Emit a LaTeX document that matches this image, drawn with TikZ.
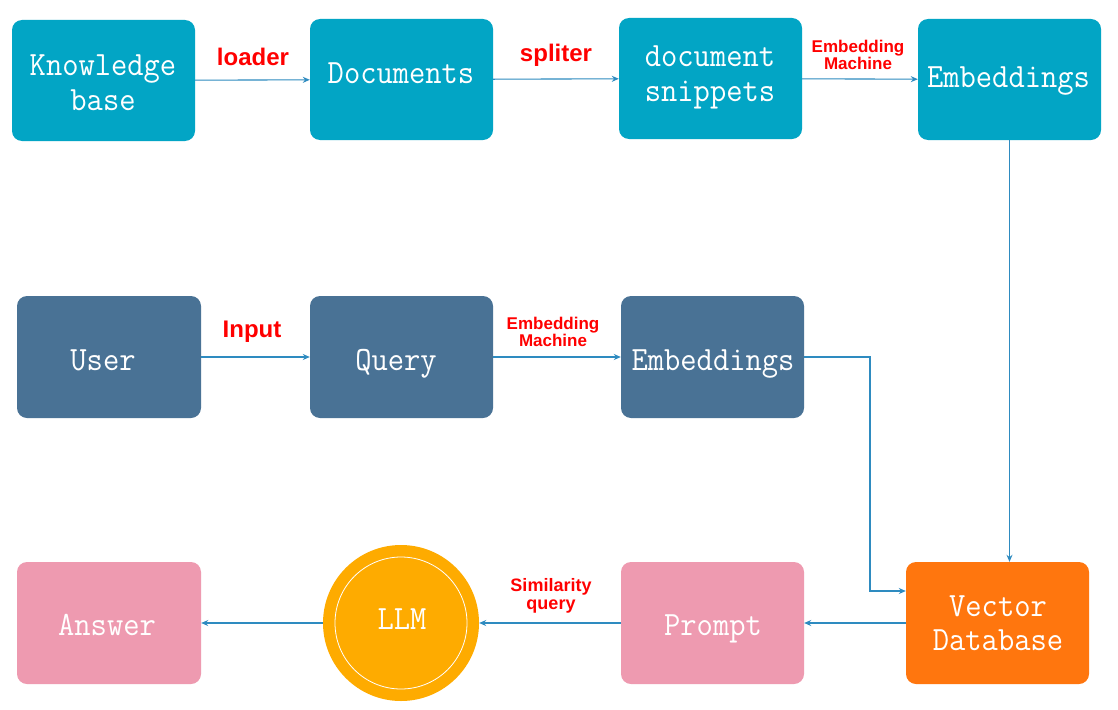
\documentclass[tikz,border=0pt]{standalone}
\usepackage{fontspec}
\newfontfamily\boxfont[FakeStretch=0.93]{Latin Modern Mono}
\newfontfamily\lblfont{Liberation Sans}
\usetikzlibrary{arrows.meta,calc}
\definecolor{teal1}{HTML}{02A5C5}
\definecolor{slate}{HTML}{497295}
\definecolor{pinkb}{HTML}{EE9AB0}
\definecolor{orangeb}{HTML}{FF760E}
\definecolor{llmc}{HTML}{FEAB00}
\definecolor{linec}{HTML}{2E8BC0}
\tikzset{
  box/.style={rounded corners=10pt, minimum width=183pt, minimum height=121pt, inner sep=0pt},
  btxt/.style={text=white, align=center, inner sep=0pt, font=\boxfont\fontsize{34}{34.5}\selectfont},
  conn/.style={draw=linec, line width=1.1pt, -{Stealth[length=7pt,width=6pt]}},
  lbl/.style={font=\lblfont\bfseries\fontsize{#1}{#1}\selectfont, align=center, inner sep=0pt, text=red},
}
\begin{document}
\begin{tikzpicture}[x=1pt,y=-1pt]
\useasboundingbox[fill=white] (0,0) rectangle (1118,709);
% row 1
\node[box, fill=teal1] (kb) at (103.5,80.5) {};
\node[box, fill=teal1] (doc) at (401.5,79.5) {};
\node[box, fill=teal1] (snip) at (710.5,78.5) {};
\node[box, fill=teal1] (emb1) at (1009.5,79.5) {};
% row 2
\node[box, fill=slate, minimum width=184pt, minimum height=122pt] (user) at (109,357) {};
\node[box, fill=slate, minimum height=122pt] (query) at (401.5,357) {};
\node[box, fill=slate, minimum height=122pt] (emb2) at (712.5,357) {};
% row 3
\node[box, fill=pinkb, minimum width=184pt, minimum height=122pt] (answer) at (109,623) {};
\node[circle, fill=llmc, minimum size=156pt, inner sep=0pt] (llm) at (401,623) {};
\draw[white, line width=0.8pt] (llm.center) circle[radius=66pt];
\node[box, fill=pinkb, minimum height=122pt] (prompt) at (712.5,623) {};
\node[box, fill=orangeb, minimum height=122pt] (vdb) at (997.5,623) {};
% box texts
\node[btxt] (kbt) at (103,82.9) {Knowledge\\base};
\node[btxt, anchor=base] (doct) at (401,83.3) {Documents};
\node[btxt] (snipt) at (710,77.2) {document\\snippets};
\node[btxt, anchor=base] (emb1t) at (1008.5,87.3) {Embeddings};
\node[btxt, anchor=base] (usert) at (103,370) {User};
\node[btxt, anchor=base] (queryt) at (396,370.5) {Query};
\node[btxt, anchor=base] (emb2t) at (713,370) {Embeddings};
\node[btxt, anchor=base] (answert) at (107,635) {Answer};
\node[btxt, anchor=base] (llmt) at (402,629) {LLM};
\node[btxt, anchor=base] (promptt) at (713,635) {Prompt};
\node[btxt] (vdbt) at (998,623.3) {Vector\\Database};
% connectors
\draw[conn] (kb) -- (doc);
\draw[conn] (doc) -- (snip);
\draw[conn] (snip) -- (emb1);
\draw[conn] (emb1.south) -- (emb1.south |- vdb.north);
\draw[conn] (user) -- (query);
\draw[conn] (query) -- (emb2);
\coordinate (bend) at (870,591);
\draw[conn] (emb2.east) -- (emb2.east -| bend) -- (bend) -- (bend -| vdb.west);
\draw[conn] (vdb) -- (prompt);
\draw[conn] (prompt) -- (llm);
\draw[conn] (llm) -- (answer);
% labels
\node[lbl=24] (l1) at (253,57) {loader};
\node[lbl=24] (l2) at (556,55) {spliter};
\node[lbl=17] (l3) at (858,55) {Embedding\\Machine};
\node[lbl=24] (l4) at (252,332) {Input};
\node[lbl=17] (l5) at (553,332) {Embedding\\Machine};
\node[lbl=18] (l6) at (551,596) {Similarity\\query};
\end{tikzpicture}
\end{document}
